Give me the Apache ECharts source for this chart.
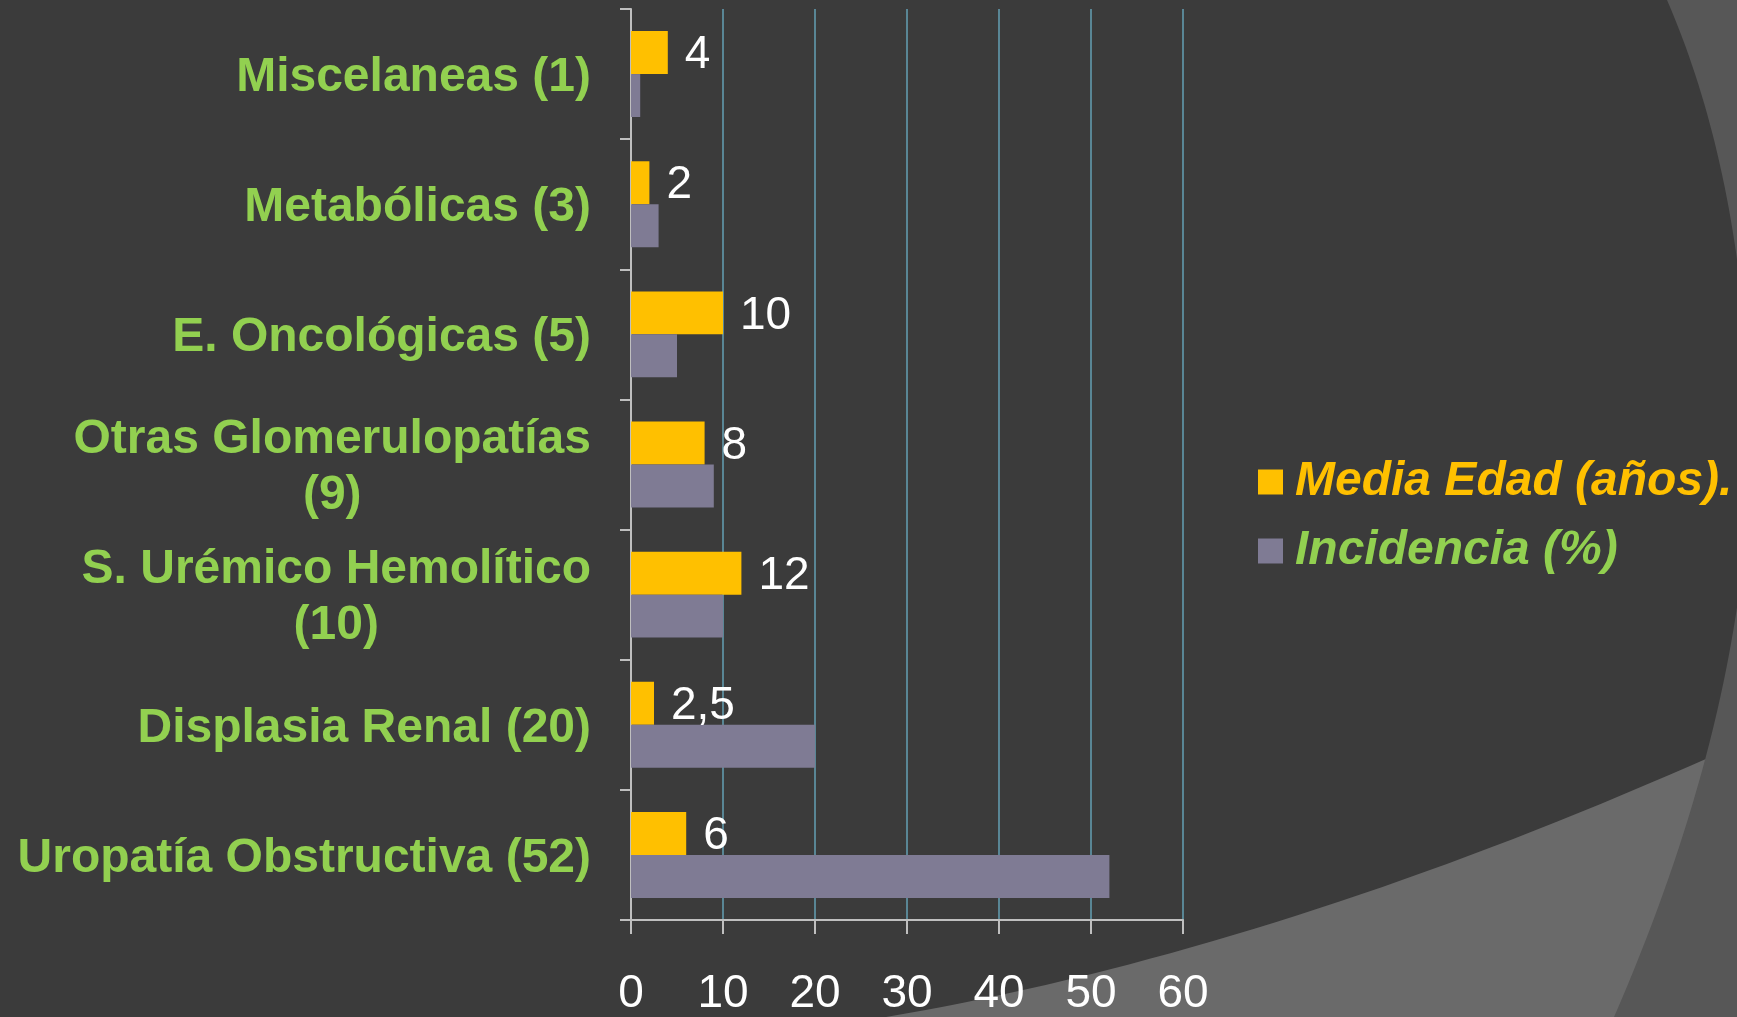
<!DOCTYPE html>
<html lang="es">
<head>
    <meta charset="UTF-8">
    <title>Media edad e incidencia</title>
    <script src="https://cdn.jsdelivr.net/npm/echarts@6/dist/echarts.min.js"></script>
    <style>
        html, body { margin: 0; padding: 0; background: #3b3b3b; }
    </style>
</head>
<body>
<div id="main" style="width: 1737px;height:1017px;"></div>
<script>
    // categorias (de arriba a abajo)
    var categorias = [
        'Miscelaneas (1)',
        'Metabólicas (3)',
        'E. Oncológicas (5)',
        'Otras Glomerulopatías\n(9)',
        'S. Urémico Hemolítico\n(10)',
        'Displasia Renal (20)',
        'Uropatía Obstructiva (52)'
    ];
    var mediaEdad = [4, 2, 10, 8, 12, 2.5, 6];
    var incidencia = [1, 3, 5, 9, 10, 20, 52];
    var ticksX = [0, 60, 10]; // min, max, intervalo

    var fuente = "'Liberation Sans', Arial, sans-serif";
    var verde = '#92D050';
    var amarillo = '#FFC000';
    var gris = '#7F7B94';

    // curva cuadratica para el fondo decorativo
    function curva(p0, c, p1) {
        var pts = [];
        for (var i = 0; i <= 40; i++) {
            var t = i / 40, u = 1 - t;
            pts.push([u * u * p0[0] + 2 * u * t * c[0] + t * t * p1[0],
                      u * u * p0[1] + 2 * u * t * c[1] + t * t * p1[1]]);
        }
        return pts;
    }
    var fondoClaro = curva([886, 1017], [1282, 950], [1737, 745]).concat([[1737, 1017]]);
    var fondoLado = curva([1667, 0], [1745, 180], [1750, 430])
        .concat(curva([1750, 430], [1752, 700], [1614, 1017]))
        .concat([[1737, 1017], [1737, 0]]);

    var myChart = echarts.init(document.getElementById('main'));

    var option = {
        backgroundColor: '#3b3b3b',
        animation: false,
        graphic: [
            {
                type: 'polygon',
                z: -10,
                silent: true,
                shape: { points: fondoClaro },
                style: { fill: '#6a6a6a' }
            },
            {
                type: 'polygon',
                z: -9,
                silent: true,
                shape: { points: fondoLado },
                style: { fill: '#575757' }
            }
        ],
        legend: {
            orient: 'vertical',
            left: 1253,
            top: 453,
            icon: 'rect',
            itemWidth: 25,
            itemHeight: 25,
            itemGap: 21,
            textStyle: {
                fontFamily: fuente,
                fontSize: 48,
                fontWeight: 'bold',
                fontStyle: 'italic',
                padding: [0, 0, 0, 7]
            },
            data: [
                { name: 'Media Edad (años).', textStyle: { color: amarillo } },
                { name: 'Incidencia (%)', textStyle: { color: verde } }
            ]
        },
        grid: {
            left: 631,
            right: 554,
            top: 9,
            bottom: 92,
            containLabel: false
        },
        xAxis: {
            type: 'value',
            min: ticksX[0],
            max: ticksX[1],
            interval: ticksX[2],
            axisLine: { show: true, lineStyle: { color: '#bfbfbf', width: 2 } },
            axisTick: { show: true, length: 14, lineStyle: { color: '#bfbfbf', width: 2 } },
            axisLabel: {
                color: '#ffffff',
                fontFamily: fuente,
                fontSize: 46,
                margin: 51
            },
            splitLine: { show: true, lineStyle: { color: '#65a0b4', width: 1.5 } }
        },
        yAxis: {
            type: 'category',
            inverse: true,
            data: categorias,
            axisLine: { show: true, lineStyle: { color: '#bfbfbf', width: 2 } },
            axisTick: { show: true, length: 11, lineStyle: { color: '#bfbfbf', width: 2 } },
            axisLabel: {
                margin: 40,
                align: 'right',
                formatter: function (v) {
                    return v.split('\n').map(function (s) { return '{c|' + s + '}'; }).join('\n');
                },
                rich: {
                    c: {
                        align: 'center',
                        color: verde,
                        fontFamily: fuente,
                        fontSize: 48,
                        fontWeight: 'bold',
                        lineHeight: 56,
                        padding: [7, 0, 0, 0]
                    }
                }
            }
        },
        series: [
            {
                name: 'Media Edad (años).',
                type: 'bar',
                data: mediaEdad,
                barGap: '0%',
                barCategoryGap: '34%',
                itemStyle: { color: amarillo },
                label: {
                    show: true,
                    position: 'right',
                    distance: 17,
                    offset: [0, 3],
                    color: '#ffffff',
                    fontFamily: fuente,
                    fontSize: 46,
                    formatter: function (p) { return String(p.value).replace('.', ','); }
                }
            },
            {
                name: 'Incidencia (%)',
                type: 'bar',
                data: incidencia,
                barGap: '0%',
                barCategoryGap: '34%',
                itemStyle: { color: gris }
            }
        ]
    };
    myChart.setOption(option);
</script>
</body>
</html>
